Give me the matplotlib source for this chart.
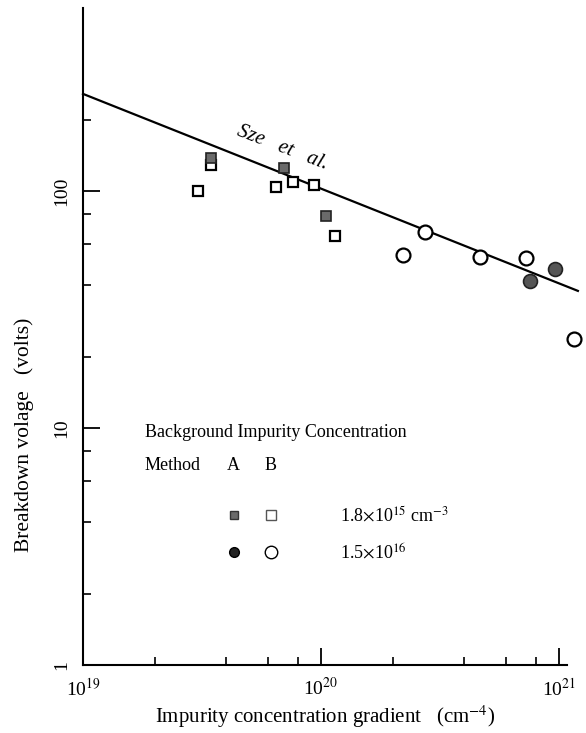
import numpy as np
import matplotlib
matplotlib.use('Agg')
import matplotlib.pyplot as plt

plt.rcParams['font.family'] = ['Liberation Serif', 'DejaVu Serif']
plt.rcParams['mathtext.fontset'] = 'stix'

# Method A (filled) and B (open), background 1.8e15 cm^-3 -> squares
sq_a_x = [3.45e19, 7.0e19, 1.05e20]
sq_a_y = [138, 125, 78.5]
sq_b_x = [3.05e19, 3.45e19, 6.46e19, 7.66e19, 9.3e19, 1.15e20]
sq_b_y = [100, 129, 104, 109, 106, 64.8]

# background 1.5e16 cm^-3 -> circles
ci_a_x = [7.55e20, 9.62e20]
ci_a_y = [41.7, 46.9]
ci_b_x = [2.2e20, 2.74e20, 4.66e20, 7.26e20, 1.16e21]
ci_b_y = [53.6, 67, 52.8, 52, 23.7]

# Sze et al. theory line (end points)
sze_x = [1e19, 1.2e21]
sze_y = [257, 37.9]

fig = plt.figure(figsize=(5.86, 7.33), dpi=100)
ax = fig.add_axes([83 / 586, 1 - 665 / 733, (567 - 83) / 586, (665 - 8) / 733])
ax.set_xscale('log')
ax.set_yscale('log')
ax.set_xlim(1e19, 1.08e21)
ax.set_ylim(1, 592)

ax.plot(sze_x, sze_y, color='black', lw=1.6, clip_on=False, zorder=2)

ax.plot(sq_b_x, sq_b_y, 's', ms=7.5, mfc='white', mec='black', mew=1.6, clip_on=False, zorder=3)
ax.plot(sq_a_x, sq_a_y, 's', ms=7.5, mfc='#6a6a6a', mec='#222222', mew=1.2, clip_on=False, zorder=4)
ax.plot(ci_b_x, ci_b_y, 'o', ms=10, mfc='white', mec='black', mew=1.6, clip_on=False, zorder=3)
ax.plot(ci_a_x, ci_a_y, 'o', ms=10, mfc='#555555', mec='#222222', mew=1.2, clip_on=False, zorder=4)

ax.text(4.4e19, 172, 'Sze   et   al.', fontsize=15, style='italic',
        rotation=-21, rotation_mode='anchor', ha='left', va='baseline')

# legend drawn by hand
ax.text(0.128, 0.347, 'Background Impurity Concentration', transform=ax.transAxes, fontsize=13)
ax.text(0.128, 0.297, 'Method', transform=ax.transAxes, fontsize=13)
ax.text(0.311, 0.297, 'A', transform=ax.transAxes, fontsize=13, ha='center')
ax.text(0.388, 0.297, 'B', transform=ax.transAxes, fontsize=13, ha='center')
ax.plot([0.311], [0.228], 's', ms=6, mfc='#6a6a6a', mec='#333333', mew=1, transform=ax.transAxes)
ax.plot([0.388], [0.228], 's', ms=7, mfc='white', mec='#555555', mew=1, transform=ax.transAxes)
ax.plot([0.311], [0.172], 'o', ms=7, mfc='#222222', mec='black', mew=1, transform=ax.transAxes)
ax.plot([0.388], [0.172], 'o', ms=9, mfc='white', mec='black', mew=1, transform=ax.transAxes)
ax.text(0.53, 0.228, r'1.8$\times$10$^{15}$ cm$^{-3}$', transform=ax.transAxes, fontsize=13, va='center')
ax.text(0.53, 0.172, r'1.5$\times$10$^{16}$', transform=ax.transAxes, fontsize=13, va='center')

ax.spines['top'].set_visible(False)
ax.spines['right'].set_visible(False)
ax.spines['left'].set_linewidth(1.5)
ax.spines['bottom'].set_linewidth(1.5)

ax.set_xticks([1e19, 1e20, 1e21], labels=[r'10$^{19}$', r'10$^{20}$', r'10$^{21}$'])
ax.set_xticks([m * 10.0 ** e for e in (19, 20) for m in (2, 4, 6, 8)], minor=True)
ax.set_xticklabels([], minor=True)
ax.set_yticks([1, 10, 100], labels=['1', '10', '100'])
ax.set_yticks([m * 10.0 ** e for e in (0, 1) for m in (2, 4, 6, 8)] + [200], minor=True)
ax.set_yticklabels([], minor=True)
for lab in ax.get_yticklabels():
    lab.set_rotation(90)
    lab.set_va('center')
ax.tick_params(which='major', direction='in', length=12, width=1.3, labelsize=14, pad=9)
ax.tick_params(which='minor', direction='in', length=6, width=1.2)

ax.set_xlabel(r'Impurity concentration gradient   (cm$^{-4}$)', fontsize=15)
ax.xaxis.set_label_coords(0.5, -0.059)
ax.set_ylabel('Breakdown volage   (volts)', fontsize=15.5)
ax.yaxis.set_label_coords(-0.101, 0.35)

fig.savefig('out.png', dpi=100)
